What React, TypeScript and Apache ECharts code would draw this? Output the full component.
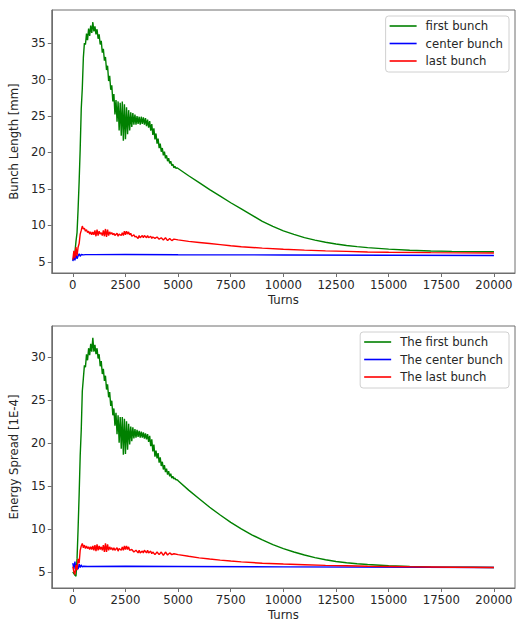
import React, { useEffect, useRef } from "react";
import * as echarts from "echarts";

// ---- Top panel: Bunch Length [mm] ----
const topFirst: [number, number][] = [
  [0, 5.2], [50, 5.5], [100, 6.3], [150, 7.8], [200, 9.0], [250, 12.2], [300, 16.0], [350, 20.5], [400, 26.0], [450, 28.8],
  [500, 33.0], [550, 35.0], [600, 34.8], [650, 36.3], [700, 35.4], [750, 37.0], [800, 36.0], [850, 37.4], [900, 36.4], [950, 37.9],
  [1000, 36.6], [1050, 37.3], [1100, 36.2], [1150, 36.9], [1200, 35.6], [1250, 36.2], [1300, 34.8], [1350, 35.3], [1400, 33.7], [1450, 34.2],
  [1500, 32.6], [1550, 33.1], [1600, 31.3], [1650, 31.9], [1700, 29.8], [1750, 30.5], [1800, 28.6], [1850, 29.2], [1900, 27.0], [1950, 28.0],
  [2000, 25.2], [2050, 27.2], [2100, 24.2], [2150, 27.0], [2200, 23.0], [2250, 26.8], [2300, 22.3], [2350, 27.0], [2400, 21.6], [2450, 26.6],
  [2500, 21.8], [2550, 26.2], [2600, 22.5], [2650, 25.8], [2700, 23.0], [2750, 25.5], [2800, 23.5], [2850, 25.4], [2900, 23.8], [2950, 25.2],
  [3000, 23.8], [3050, 25.0], [3100, 23.9], [3150, 24.9], [3200, 23.8], [3250, 24.9], [3300, 23.9], [3350, 24.8], [3400, 23.8], [3450, 24.7],
  [3500, 23.6], [3550, 24.5], [3600, 23.4], [3650, 24.3], [3700, 23.0], [3750, 23.9], [3800, 22.4], [3850, 23.3], [3900, 21.8], [3950, 22.6],
  [4000, 21.2], [4050, 21.9], [4100, 20.6], [4150, 21.2], [4200, 20.1], [4250, 20.6], [4300, 19.6], [4350, 20.1], [4400, 19.2], [4450, 19.6],
  [4500, 18.8], [4550, 19.2], [4600, 18.5], [4650, 18.8], [4700, 18.2], [4750, 18.4], [4800, 17.9], [4850, 18.1], [4900, 17.8], [4950, 17.9],
  [5000, 17.8], [5500, 16.8], [6000, 15.85], [6500, 14.9], [7000, 14.0], [7500, 13.1], [8000, 12.25], [8500, 11.4], [9000, 10.55], [9500, 9.85],
  [10000, 9.25], [10500, 8.75], [11000, 8.32], [11500, 7.97], [12000, 7.68], [12500, 7.44], [13000, 7.24], [13500, 7.08], [14000, 6.94], [15000, 6.73],
  [16000, 6.58], [17000, 6.48], [18000, 6.42], [19000, 6.39], [20000, 6.37],
];
const topCenter: [number, number][] = [
  [0, 5.1], [50, 5.7], [100, 5.2], [150, 6.0], [200, 5.4], [250, 5.8], [300, 6.1], [350, 5.75], [400, 6.0], [500, 5.95],
  [600, 5.98], [1000, 5.98], [2500, 6.0], [5000, 5.97], [10000, 5.93], [15000, 5.9], [20000, 5.87],
];
const topLast: [number, number][] = [
  [0, 5.3], [50, 6.5], [100, 5.5], [150, 7.0], [200, 5.8], [250, 7.0], [300, 7.5], [350, 8.8], [400, 9.3], [450, 9.9],
  [500, 9.5], [550, 9.6], [600, 9.2], [650, 9.4], [700, 9.0], [750, 9.2], [800, 8.8], [850, 9.1], [900, 8.7], [950, 9.1],
  [1000, 8.7], [1050, 9.3], [1100, 8.5], [1150, 9.4], [1200, 8.6], [1250, 9.2], [1300, 8.8], [1350, 9.0], [1400, 8.6], [1450, 9.3],
  [1500, 8.5], [1550, 9.5], [1600, 8.4], [1650, 9.4], [1700, 8.6], [1750, 9.1], [1800, 8.8], [1850, 9.0], [1900, 8.7], [1950, 8.9],
  [2000, 8.6], [2100, 8.9], [2150, 8.5], [2200, 8.8], [2300, 8.6], [2350, 9.0], [2400, 8.6], [2450, 9.2], [2500, 8.7], [2550, 9.2],
  [2600, 8.8], [2650, 9.1], [2700, 8.7], [2750, 8.9], [2800, 8.5], [2900, 8.7], [2950, 8.4], [3000, 8.5], [3100, 8.2], [3150, 8.6],
  [3200, 8.3], [3300, 8.6], [3350, 8.3], [3400, 8.6], [3500, 8.3], [3550, 8.6], [3600, 8.3], [3700, 8.5], [3750, 8.2], [3800, 8.4],
  [3900, 8.2], [4000, 8.4], [4100, 8.1], [4200, 8.3], [4300, 8.0], [4400, 8.3], [4500, 7.9], [4600, 8.2], [4700, 7.9], [4800, 8.1],
  [5000, 8.0], [5500, 7.8], [6000, 7.65], [6500, 7.5], [7000, 7.35], [7500, 7.2], [8000, 7.07], [9000, 6.87], [10000, 6.72], [11000, 6.6],
  [12000, 6.5], [13000, 6.42], [14000, 6.35], [15000, 6.3], [17000, 6.25], [20000, 6.2],
];

// ---- Bottom panel: Energy Spread [1E-4] ----
const botFirst: [number, number][] = [
  [0, 5.0], [50, 4.8], [100, 4.6], [150, 4.5], [200, 6.5], [250, 10.0], [300, 14.0], [350, 18.5], [400, 21.5], [450, 26.0],
  [500, 27.5], [550, 29.0], [600, 28.8], [650, 30.3], [700, 29.6], [750, 31.0], [800, 30.2], [850, 31.5], [900, 30.6], [950, 32.2],
  [1000, 30.6], [1050, 31.4], [1100, 30.3], [1150, 31.0], [1200, 29.8], [1250, 30.3], [1300, 28.9], [1350, 29.5], [1400, 28.0], [1450, 28.6],
  [1500, 27.2], [1550, 27.8], [1600, 26.2], [1650, 26.8], [1700, 25.3], [1750, 25.9], [1800, 24.3], [1850, 24.9], [1900, 23.2], [1950, 24.0],
  [2000, 22.0], [2050, 23.5], [2100, 21.0], [2150, 23.2], [2200, 20.0], [2250, 23.0], [2300, 19.3], [2350, 23.0], [2400, 18.6], [2450, 22.8],
  [2500, 18.7], [2550, 22.5], [2600, 19.2], [2650, 22.2], [2700, 19.8], [2750, 21.9], [2800, 20.2], [2850, 21.8], [2900, 20.5], [2950, 21.6],
  [3000, 20.6], [3050, 21.5], [3100, 20.7], [3150, 21.4], [3200, 20.6], [3250, 21.3], [3300, 20.6], [3350, 21.2], [3400, 20.5], [3450, 21.1],
  [3500, 20.4], [3550, 21.0], [3600, 20.1], [3650, 20.8], [3700, 19.6], [3750, 20.4], [3800, 19.0], [3850, 19.8], [3900, 18.4], [3950, 19.1],
  [4000, 18.2], [4050, 18.8], [4100, 17.7], [4150, 18.3], [4200, 17.3], [4250, 17.8], [4300, 16.9], [4350, 17.4], [4400, 16.6], [4450, 17.0],
  [4500, 16.3], [4550, 16.7], [4600, 16.1], [4650, 16.4], [4700, 15.9], [4750, 16.1], [4800, 15.8], [4850, 15.9], [4900, 15.7], [4950, 15.7],
  [5000, 15.6], [5500, 14.5], [6000, 13.5], [6500, 12.5], [7000, 11.6], [7500, 10.75], [8000, 10.0], [8500, 9.3], [9000, 8.7], [9500, 8.15],
  [10000, 7.7], [10500, 7.3], [11000, 6.95], [11500, 6.65], [12000, 6.4], [12500, 6.2], [13000, 6.05], [13500, 5.93], [14000, 5.84], [15000, 5.7],
  [16000, 5.62], [17000, 5.57], [18000, 5.54], [19000, 5.52], [20000, 5.5],
];
const botCenter: [number, number][] = [
  [0, 6.0], [50, 5.3], [100, 6.2], [150, 5.2], [200, 5.8], [250, 5.3], [300, 5.9], [350, 5.5], [400, 5.8], [450, 5.55],
  [500, 5.65], [700, 5.62], [2500, 5.65], [5000, 5.62], [10000, 5.57], [20000, 5.5],
];
const botLast: [number, number][] = [
  [0, 5.6], [50, 5.0], [100, 4.7], [150, 5.8], [200, 5.2], [250, 6.5], [300, 6.0], [350, 7.5], [400, 8.0], [450, 8.3],
  [500, 7.8], [550, 8.1], [600, 7.7], [650, 8.0], [700, 7.7], [750, 7.9], [800, 7.6], [850, 7.9], [900, 7.6], [950, 8.0],
  [1000, 7.5], [1050, 8.1], [1100, 7.4], [1150, 8.2], [1200, 7.5], [1250, 8.0], [1300, 7.6], [1350, 7.9], [1400, 7.5], [1450, 8.1],
  [1500, 7.3], [1550, 8.3], [1600, 7.3], [1650, 8.2], [1700, 7.5], [1750, 7.9], [1800, 7.6], [1850, 7.8], [1900, 7.5], [1950, 7.8],
  [2000, 7.5], [2100, 7.8], [2150, 7.4], [2200, 7.7], [2300, 7.5], [2350, 7.9], [2400, 7.5], [2450, 8.0], [2500, 7.6], [2550, 8.0],
  [2600, 7.6], [2650, 7.9], [2700, 7.5], [2800, 7.6], [2900, 7.3], [3000, 7.5], [3100, 7.2], [3150, 7.5], [3200, 7.2], [3300, 7.4],
  [3350, 7.2], [3400, 7.5], [3500, 7.2], [3550, 7.5], [3600, 7.2], [3700, 7.4], [3750, 7.1], [3800, 7.3], [3900, 7.0], [4000, 7.3],
  [4100, 7.0], [4200, 7.3], [4300, 6.9], [4400, 7.3], [4500, 6.95], [4600, 7.2], [4700, 7.0], [4800, 7.1], [5000, 7.0], [5500, 6.8],
  [6000, 6.62], [6500, 6.48], [7000, 6.36], [7500, 6.25], [8000, 6.15], [9000, 6.0], [10000, 5.9], [11000, 5.82], [12000, 5.75], [13000, 5.7],
  [14000, 5.65], [16000, 5.58], [18000, 5.53], [20000, 5.5],
];

const xTicks = [0, 2500, 5000, 7500, 10000, 12500, 15000, 17500, 20000];
const topYTicks = [5, 10, 15, 20, 25, 30, 35];
const botYTicks = [5, 10, 15, 20, 25, 30];
const topNames = ["first bunch", "center bunch", "last bunch"];
const botNames = ["The first bunch", "The center bunch", "The last bunch"];
const colors = ["#008000", "#0000ff", "#ff0000"];

const FONT = "DejaVu Sans";
const TEXT = "#262626";
const FRAME = "#6e6e6e";

function xAxisDef(gridIndex: number) {
  return {
    type: "value",
    gridIndex,
    min: -1000,
    max: 21000,
    name: "Turns",
    nameLocation: "middle",
    nameGap: 21,
    nameTextStyle: { fontFamily: FONT, fontSize: 11.7, color: TEXT },
    axisLine: { show: true, onZero: false, lineStyle: { color: FRAME, width: 1 } },
    axisTick: { show: true, length: 4, customValues: xTicks, lineStyle: { color: FRAME } },
    axisLabel: {
      customValues: xTicks,
      margin: 6,
      fontFamily: FONT,
      fontSize: 11.7,
      color: TEXT,
      formatter: (v: number) => String(v),
    },
    splitLine: { show: false },
  };
}

function yAxisDef(gridIndex: number, min: number, max: number, ticks: number[], name: string) {
  return {
    type: "value",
    gridIndex,
    min,
    max,
    name,
    nameLocation: "middle",
    nameGap: 29,
    nameRotate: 90,
    nameTextStyle: { fontFamily: FONT, fontSize: 11.7, color: TEXT },
    axisLine: { show: true, onZero: false, lineStyle: { color: FRAME, width: 1 } },
    axisTick: { show: true, length: 4, customValues: ticks, lineStyle: { color: FRAME } },
    axisLabel: {
      customValues: ticks,
      margin: 6,
      fontFamily: FONT,
      fontSize: 11.7,
      color: TEXT,
      formatter: (v: number) => String(v),
    },
    splitLine: { show: false },
  };
}

function lineSeries(name: string, data: [number, number][], color: string, idx: number) {
  return {
    type: "line",
    name,
    data,
    xAxisIndex: idx,
    yAxisIndex: idx,
    symbol: "none",
    showSymbol: false,
    lineStyle: { color, width: 1.4 },
    itemStyle: { color },
    emphasis: { disabled: true },
  };
}

function legendDef(names: string[], top: number) {
  return {
    data: names.map((n) => ({ name: n, icon: "rect" })),
    orient: "vertical",
    right: 7,
    top,
    itemWidth: 27,
    itemHeight: 1.6,
    itemGap: 3.5,
    padding: [3, 6, 4, 4],
    backgroundColor: "rgba(255,255,255,0.8)",
    borderColor: "#d0d0d0",
    borderWidth: 1,
    borderRadius: 3,
    textStyle: {
      fontFamily: FONT,
      fontSize: 11.7,
      color: TEXT,
      lineHeight: 14,
      padding: [0, 0, 0, 4],
    },
    selectedMode: false,
  };
}

export default function App() {
  const ref = useRef<HTMLDivElement>(null);
  useEffect(() => {
    if (!ref.current) return;
    const chart = echarts.init(ref.current, null, { renderer: "svg" });
    chart.setOption({
      animation: false,
      backgroundColor: "#ffffff",
      grid: [
        { left: 51, top: 10, width: 464, height: 263, show: true, borderColor: FRAME, borderWidth: 1, backgroundColor: "transparent" },
        { left: 51, top: 326, width: 464, height: 262, show: true, borderColor: FRAME, borderWidth: 1, backgroundColor: "transparent" },
      ],
      xAxis: [xAxisDef(0), xAxisDef(1)],
      yAxis: [
        yAxisDef(0, 3.46, 39.54, topYTicks, "Bunch Length [mm]"),
        yAxisDef(1, 3.115, 33.585, botYTicks, "Energy Spread [1E-4]"),
      ],
      legend: [legendDef(topNames, 16), legendDef(botNames, 332)],
      series: [
        lineSeries(topNames[0], topFirst, colors[0], 0),
        lineSeries(topNames[1], topCenter, colors[1], 0),
        lineSeries(topNames[2], topLast, colors[2], 0),
        lineSeries(botNames[0], botFirst, colors[0], 1),
        lineSeries(botNames[1], botCenter, colors[1], 1),
        lineSeries(botNames[2], botLast, colors[2], 1),
      ],
    });
    return () => chart.dispose();
  }, []);
  return (
    <div
      ref={ref}
      style={{ position: "fixed", left: 0, top: 0, width: 516, height: 629, background: "#fff" }}
    />
  );
}
